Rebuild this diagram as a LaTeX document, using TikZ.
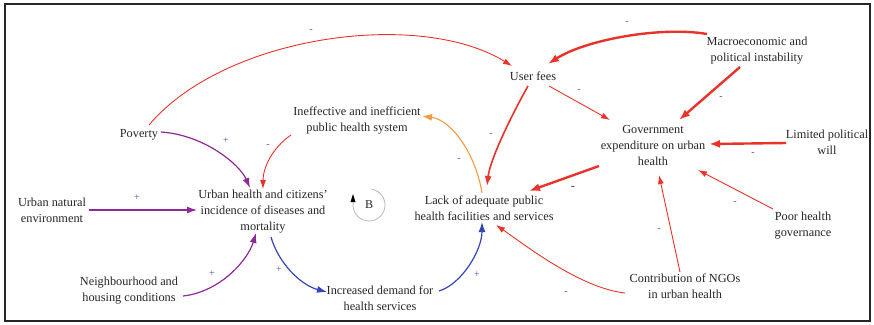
\documentclass[tikz,border=0pt]{standalone}
\usepackage{fontspec}
\setmainfont{Liberation Serif}
\usetikzlibrary{arrows.meta,calc}
\definecolor{linkred}{HTML}{E8332A}
\definecolor{linkpurple}{HTML}{8E2A94}
\definecolor{linkblue}{HTML}{3545B5}
\definecolor{linkorange}{HTML}{F39A45}
\definecolor{signblue}{HTML}{4A4CB0}
\definecolor{labelgray}{HTML}{262626}
\begin{document}
\begin{tikzpicture}[x=1pt,y=-1pt,
  var/.style={align=center,font=\fontsize{12.3}{16}\selectfont,text=labelgray,inner sep=1pt},
  sign/.style={font=\fontsize{10}{10}\selectfont,text=signblue,inner sep=0pt},
  redlink/.style={draw=linkred,line width=0.9pt,-{Latex[length=9pt,width=6pt]}},
  redmid/.style={draw=linkred,line width=1.6pt,-{Latex[length=10pt,width=7pt]}},
  redbold/.style={draw=linkred,line width=2.4pt,-{Latex[length=11pt,width=8pt]}},
  purplelink/.style={draw=linkpurple,line width=1.2pt,-{Latex[length=10pt,width=7pt]}},
  bluelink/.style={draw=linkblue,line width=1.2pt,-{Latex[length=10pt,width=7pt]}},
  orangelink/.style={draw=linkorange,line width=1.1pt,-{Latex[length=10pt,width=7pt]}}]

\useasboundingbox (0,0) rectangle (874,324);
\fill[white] (0,0) rectangle (874,324);
\draw[line width=2.4pt,black!85] (5,4) rectangle (870,321);

% variables
\node[var] (pov)   at (139,135) {Poverty};
\node[var] (ineff) at (357,120) {Ineffective and inefficient\\public health system};
\node[var] (uf)    at (533,76)  {User fees};
\node[var] (macro) at (757,51)  {Macroeconomic and\\political instability};
\node[var] (gov)   at (653,145) {Government\\expenditure on urban\\health};
\node[var] (lim)   at (827,142) {Limited political\\will};
\node[var] (une)   at (52,210)  {Urban natural\\environment};
\node[var] (uh)    at (263,212) {Urban health and citizens'\\incidence of diseases and\\mortality};
\node[var] (lack)  at (484,208) {Lack of adequate public\\health facilities and services};
\node[var] (dem)   at (380,298) {Increased demand for\\health services};
\node[var] (nbh)   at (129,291) {Neighbourhood and\\housing conditions};
\node[var] (ngo)   at (685,286) {Contribution of NGOs\\in urban health};
\node[var] (poor)  at (803,226) {Poor health\\governance};

% balancing loop marker
\node[font=\fontsize{12}{12}\selectfont,text=labelgray,inner sep=0pt] (loopB) at (369,205) {B};
\draw[gray!55,line width=0.8pt] (loopB.center) ++(-80:16) arc[start angle=-80,end angle=190,radius=16];
\fill[black] ($(loopB.center)+(-16,-11)$) -- ($(loopB.center)+(-18.5,-3)$) -- ($(loopB.center)+(-13.5,-3)$) -- cycle;

% causal links
\draw[redlink] ($(pov)+(10,-10)$) .. controls +(76,-90) and +(-92,-57) .. ($(uf)+(-21,-10)$);
\draw[purplelink] ($(pov)+(22,-3)$) .. controls +(44,3) and +(-10,-23) .. ($(uh)+(-13,-24)$);
\draw[redlink] ($(ineff)+(-66,15)$) .. controls +(-19,13) and +(0,-21) .. ($(uh)+(0,-23)$);
\draw[purplelink] ($(une)+(37,0)$) -- ($(uh)+(-66,-2)$);
\draw[purplelink] ($(nbh)+(54,5)$) .. controls +(37,-4) and +(-8,27) .. ($(uh)+(-7,21)$);
\draw[bluelink] ($(uh)+(8,25)$) .. controls +(7,25) and +(-27,-7) .. ($(dem)+(-53,-6)$);
\draw[bluelink] ($(dem)+(59,-7)$) .. controls +(23,-7) and +(0,28) .. ($(lack)+(-2,14)$);
\draw[orangelink] ($(lack)+(-2,-15)$) .. controls +(-6,-38) and +(30,4) .. ($(ineff)+(65,-4)$);
\draw[redmid] ($(uf)+(-5,10)$) .. controls +(-18,32) and +(3,-26) .. ($(lack)+(3,-22)$);
\draw[redlink] ($(uf)+(16,10)$) -- ($(gov)+(-43,-25)$);
\draw[redbold] ($(macro)+(-50,-17)$) .. controls +(-47,-8) and +(37,-24) .. ($(uf)+(15,-12)$);
\draw[redbold] ($(macro)+(-17,16)$) -- ($(gov)+(26,-25)$);
\draw[redbold] ($(lim)+(-41,1)$) -- ($(gov)+(56,-1)$);
\draw[redbold] ($(gov)+(-54,21)$) -- ($(lack)+(45,-17)$);
\draw[redlink] ($(poor)+(-30,-17)$) -- ($(gov)+(45,25)$);
\draw[redlink] ($(ngo)+(-5,-14)$) -- ($(gov)+(6,30)$);
\draw[redlink] ($(ngo)+(-60,7)$) .. controls +(-45,-5) and +(29,20) .. ($(lack)+(12,17)$);

% link polarities
\node[sign] (s1)  at (311,31)  {-};
\node[sign] (s2)  at (226,141) {+};
\node[sign] (s3)  at (268,146) {-};
\node[sign] (s4)  at (137,198) {+};
\node[sign] (s5)  at (212,274) {+};
\node[sign] (s6)  at (279,270) {+};
\node[sign] (s7)  at (477,275) {+};
\node[sign] (s8)  at (459,160) {-};
\node[sign] (s9)  at (491,135) {-};
\node[sign] (s10) at (579,91)  {-};
\node[sign] (s11) at (627,23)  {-};
\node[sign] (s12) at (721,98)  {-};
\node[sign] (s13) at (753,154) {-};
\node[sign,text=black!80,font=\fontsize{11}{11}\selectfont\bfseries] (s14) at (573,188) {-};
\node[sign] (s15) at (735,203) {-};
\node[sign] (s16) at (659,230) {-};
\node[sign] (s17) at (566,293) {-};
\end{tikzpicture}
\end{document}
